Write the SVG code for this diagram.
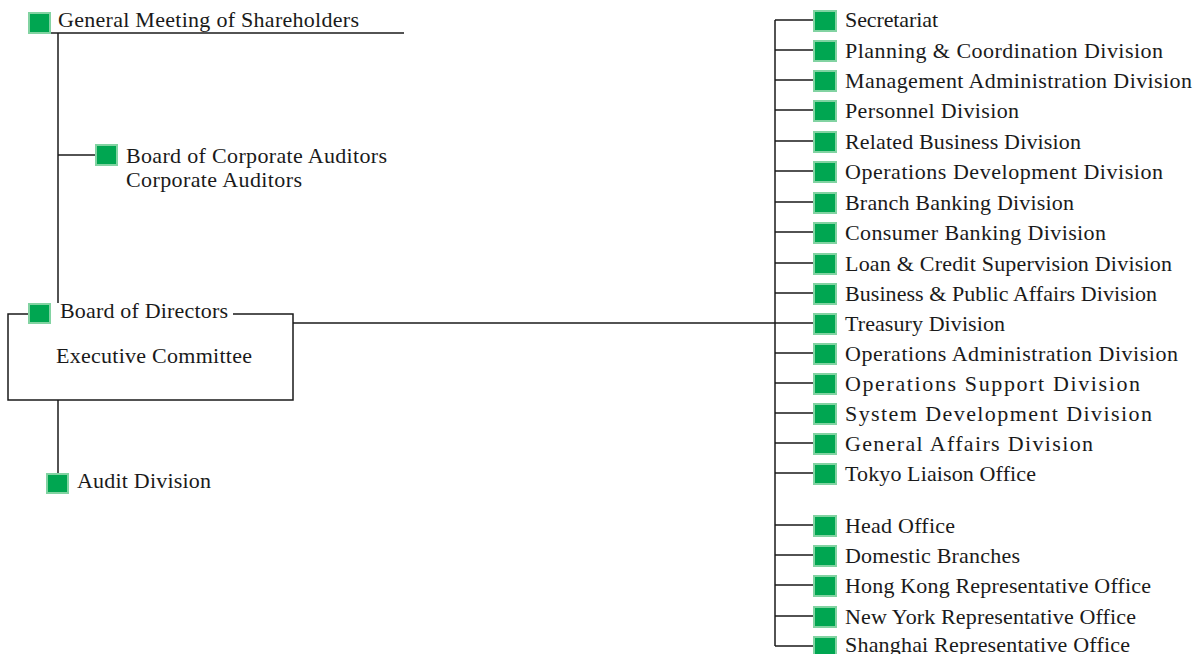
<svg xmlns="http://www.w3.org/2000/svg" width="1198" height="654" viewBox="0 0 1198 654">
<style>
.t{font-family:"Liberation Serif","Times New Roman",serif;font-size:22px;fill:#1a1a1a}
.sq{fill:#00a651;stroke:#82d3a2;stroke-width:2}
.ln{fill:none;stroke:#1a1a1a;stroke-width:1.5}
</style>
<rect width="1198" height="654" fill="#ffffff"/>
<g id="connectors">
<line class="ln" x1="51" y1="33" x2="404" y2="33"/>
<line class="ln" x1="58" y1="33" x2="58" y2="303"/>
<line class="ln" x1="58" y1="155" x2="95" y2="155"/>
<path class="ln" d="M28 314 H8 V400 H293 V314 H233"/>
<line class="ln" x1="58" y1="400" x2="58" y2="473"/>
<line class="ln" x1="293" y1="323" x2="775" y2="323"/>
<line class="ln" x1="775" y1="20" x2="775" y2="646"/>
<path class="ln" d="M775 20H813M775 50H813M775 80H813M775 110H813M775 141H813M775 171H813M775 202H813M775 232H813M775 263H813M775 293H813M775 323H813M775 353H813M775 383H813M775 413H813M775 443H813M775 473H813M775 525H813M775 555H813M775 585H813M775 616H813M775 646H813"/>
</g>
<g id="general-meeting"><rect class="sq" x="29" y="13" width="21" height="20"/><text class="t" x="58" y="27" textLength="301" lengthAdjust="spacing">General Meeting of Shareholders</text></g>
<g id="corporate-auditors"><rect class="sq" x="96" y="145" width="21" height="20"/><text class="t" x="126" y="163" textLength="261" lengthAdjust="spacing">Board of Corporate Auditors</text><text class="t" x="126" y="187" textLength="176" lengthAdjust="spacing">Corporate Auditors</text></g>
<g id="board-of-directors"><rect class="sq" x="29" y="304" width="21" height="19"/><text class="t" x="60" y="318" textLength="168" lengthAdjust="spacing">Board of Directors</text><text class="t" x="56" y="363" textLength="196" lengthAdjust="spacing">Executive Committee</text></g>
<g id="audit-division"><rect class="sq" x="47" y="474" width="21" height="19"/><text class="t" x="77" y="488" textLength="134" lengthAdjust="spacing">Audit Division</text></g>
<g id="secretariat"><rect class="sq" x="814" y="11" width="22" height="20"/><text class="t" x="845" y="27" textLength="93" lengthAdjust="spacing">Secretariat</text></g>
<g id="planning"><rect class="sq" x="814" y="41" width="22" height="20"/><text class="t" x="845" y="58" textLength="318" lengthAdjust="spacing">Planning &amp; Coordination Division</text></g>
<g id="management"><rect class="sq" x="814" y="71" width="22" height="20"/><text class="t" x="845" y="88" textLength="347" lengthAdjust="spacing">Management Administration Division</text></g>
<g id="personnel"><rect class="sq" x="814" y="101" width="22" height="20"/><text class="t" x="845" y="118" textLength="174" lengthAdjust="spacing">Personnel Division</text></g>
<g id="related-business"><rect class="sq" x="814" y="132" width="22" height="20"/><text class="t" x="845" y="149" textLength="236" lengthAdjust="spacing">Related Business Division</text></g>
<g id="operations-development"><rect class="sq" x="814" y="162" width="22" height="20"/><text class="t" x="845" y="179" textLength="318" lengthAdjust="spacing">Operations Development Division</text></g>
<g id="branch-banking"><rect class="sq" x="814" y="193" width="22" height="20"/><text class="t" x="845" y="210" textLength="229" lengthAdjust="spacing">Branch Banking Division</text></g>
<g id="consumer-banking"><rect class="sq" x="814" y="223" width="22" height="20"/><text class="t" x="845" y="240" textLength="261" lengthAdjust="spacing">Consumer Banking Division</text></g>
<g id="loan-credit"><rect class="sq" x="814" y="254" width="22" height="20"/><text class="t" x="845" y="271" textLength="327" lengthAdjust="spacing">Loan &amp; Credit Supervision Division</text></g>
<g id="business-public"><rect class="sq" x="814" y="284" width="22" height="20"/><text class="t" x="845" y="301" textLength="312" lengthAdjust="spacing">Business &amp; Public Affairs Division</text></g>
<g id="treasury"><rect class="sq" x="814" y="314" width="22" height="20"/><text class="t" x="845" y="331" textLength="160" lengthAdjust="spacing">Treasury Division</text></g>
<g id="operations-administration"><rect class="sq" x="814" y="344" width="22" height="20"/><text class="t" x="845" y="361" textLength="333" lengthAdjust="spacing">Operations Administration Division</text></g>
<g id="operations-support"><rect class="sq" x="814" y="374" width="22" height="20"/><text class="t" x="845" y="391" textLength="295" lengthAdjust="spacing">Operations Support Division</text></g>
<g id="system-development"><rect class="sq" x="814" y="404" width="22" height="20"/><text class="t" x="845" y="421" textLength="307" lengthAdjust="spacing">System Development Division</text></g>
<g id="general-affairs"><rect class="sq" x="814" y="434" width="22" height="20"/><text class="t" x="845" y="451" textLength="248" lengthAdjust="spacing">General Affairs Division</text></g>
<g id="tokyo-liaison"><rect class="sq" x="814" y="464" width="22" height="20"/><text class="t" x="845" y="481" textLength="191" lengthAdjust="spacing">Tokyo Liaison Office</text></g>
<g id="head-office"><rect class="sq" x="814" y="516" width="22" height="20"/><text class="t" x="845" y="533" textLength="110" lengthAdjust="spacing">Head Office</text></g>
<g id="domestic-branches"><rect class="sq" x="814" y="546" width="22" height="20"/><text class="t" x="845" y="563" textLength="175" lengthAdjust="spacing">Domestic Branches</text></g>
<g id="hong-kong"><rect class="sq" x="814" y="576" width="22" height="20"/><text class="t" x="845" y="593" textLength="306" lengthAdjust="spacing">Hong Kong Representative Office</text></g>
<g id="new-york"><rect class="sq" x="814" y="607" width="22" height="20"/><text class="t" x="845" y="624" textLength="291" lengthAdjust="spacing">New York Representative Office</text></g>
<g id="shanghai"><rect class="sq" x="814" y="637" width="22" height="20"/><text class="t" x="845" y="652" textLength="285" lengthAdjust="spacing">Shanghai Representative Office</text></g>
</svg>
